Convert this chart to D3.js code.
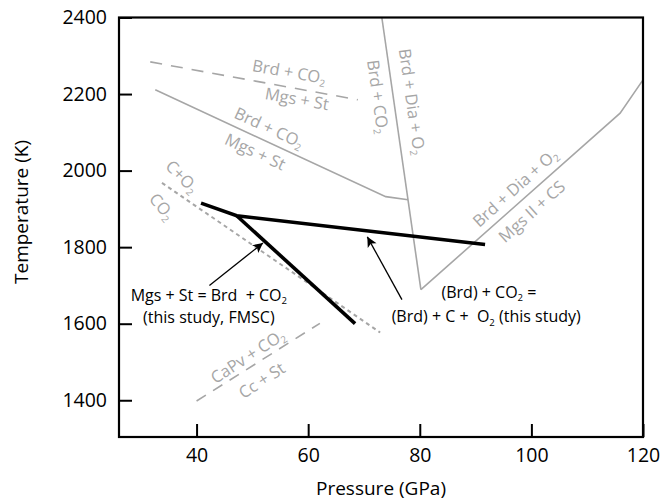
<!DOCTYPE html>
<html>
<head>
<meta charset="utf-8">
<script src="https://cdn.jsdelivr.net/npm/d3@7"></script>
<style>
  html, body { margin: 0; padding: 0; background: #fff; }
  svg { display: block; font-family: "Open Sans", "Noto Sans", sans-serif; }
  text { white-space: pre; }
</style>
</head>
<body>
<svg id="chart" width="665" height="502"></svg>
<script>
// ---------- data (Pressure GPa, Temperature K) ----------
const xTicks = [40, 60, 80, 100, 120];
const yTicks = [1400, 1600, 1800, 2000, 2200, 2400];

// Brd + CO2 = Mgs + St (dashed, older estimate)
const dashedMgsSt = [[31.7, 2284], [68.9, 2185]];
// Brd + CO2 = Mgs + St (solid)
const solidMgsSt = [[32.6, 2211], [73.9, 1932], [77.9, 1924]];
// Brd + CO2 = Brd + Dia + O2 (steep)
const steepBrdDia = [[73.2, 2400], [80.2, 1689]];
// Brd + Dia + O2 = Mgs II + CS
const risingMgsII = [[80.2, 1689], [115.9, 2150], [120.0, 2237]];
// C + O2 = CO2 (dotted)
const dottedCO2 = [[33.8, 1968], [72.9, 1577]];
// CaPv + CO2 = Cc + St (dashed)
const dashedCaPv = [[40.0, 1398], [62.1, 1601]];
// this study (black)
const studyJunction = [47.2, 1882];
const studyStart = [40.8, 1915];
const studyFMSC = [68.4, 1600];
const studyOxid = [91.7, 1807];

// arrows [tail, tip]
const arrowFMSC = [[42.3, 1700], [51.9, 1811]];
const arrowOxid = [[76.8, 1663], [70.6, 1827]];

// labels: [P, T, angle, text]  ("_2" = subscript 2)
const grayLabels = [
  [56.6, 2258, 10, "Brd + CO_2"],
  [58.0, 2187, 10, "Mgs + St"],
  [53.0, 2112, 25, "Brd + CO_2"],
  [50.5, 2049, 25, "Mgs + St"],
  [72.5, 2193, 82, "Brd + CO_2"],
  [78.6, 2180, 82, "Brd + Dia + O_2"],
  [97.1, 1955, -42, "Brd + Dia + O_2"],
  [100.1, 1893, -42, "Mgs II + CS"],
  [37.4, 1984, 45, "C+O_2"],
  [33.8, 1906, 50, "CO_2"],
  [49.2, 1515, -33, "CaPv + CO_2"],
  [51.7, 1452, -33, "Cc + St"]
];
const blackLabels = [
  [42.2, 1675, "Mgs + St = Brd  + CO_2"],
  [42.2, 1616, "(this study, FMSC)"],
  [92.4, 1682, "(Brd) + CO_2 ="],
  [91.9, 1618, "(Brd) + C +  O_2 (this study)"]
];

// ---------- layout ----------
const svg = d3.select("#chart");
const x = d3.scaleLinear().domain([26.1, 120]).range([119, 643]);
const y = d3.scaleLinear().domain([1304, 2400]).range([437, 17.5]);
const line = d3.line().x(d => x(d[0])).y(d => y(d[1]));

const GRAY = "#a6a6a6";

svg.append("defs").append("marker")
  .attr("id", "arrow")
  .attr("viewBox", "0 0 10 10")
  .attr("refX", 10).attr("refY", 5)
  .attr("markerUnits", "userSpaceOnUse")
  .attr("markerWidth", 12).attr("markerHeight", 10)
  .attr("orient", "auto")
  .append("path").attr("d", "M0,0 L10,5 L0,10 L2.5,5 Z").attr("fill", "#000");

// gray phase boundaries
const gl = svg.append("g").attr("fill", "none").attr("stroke", GRAY).attr("stroke-width", 1.6);
gl.append("path").attr("d", line(dashedMgsSt)).attr("stroke-dasharray", "12,9");
gl.append("path").attr("d", line(solidMgsSt));
gl.append("path").attr("d", line(steepBrdDia));
gl.append("path").attr("d", line(risingMgsII));
gl.append("path").attr("d", line(dottedCO2)).attr("stroke-dasharray", "4,3.5").attr("stroke-width", 2);
gl.append("path").attr("d", line(dashedCaPv)).attr("stroke-dasharray", "11,8.5");

// this study
const bl = svg.append("g").attr("fill", "none").attr("stroke", "#000").attr("stroke-width", 3.6).attr("stroke-linecap", "butt");
bl.append("path").attr("d", line([studyStart, studyJunction, studyOxid])).attr("stroke-linejoin", "miter");
bl.append("path").attr("d", line([studyJunction, studyFMSC]));

// arrows
[arrowFMSC, arrowOxid].forEach(a => {
  svg.append("path").attr("d", line(a)).attr("stroke", "#000").attr("stroke-width", 1.3)
    .attr("fill", "none").attr("marker-end", "url(#arrow)");
});

// rich text helper
function rich(sel, str, size) {
  const parts = str.split(/(_2)/);
  let sub = false;
  parts.forEach(p => {
    if (p === "") return;
    if (p === "_2") {
      sel.append("tspan").attr("font-size", size * 0.6).attr("dy", size * 0.2).text("2");
      sub = true;
    } else {
      const t = sel.append("tspan").text(p);
      if (sub) { t.attr("dy", -size * 0.2); sub = false; }
    }
  });
}

grayLabels.forEach(([p, t, a, s]) => {
  const tx = svg.append("text")
    .attr("transform", `translate(${x(p)},${y(t)}) rotate(${a})`)
    .attr("text-anchor", "middle").attr("dy", "0.35em")
    .attr("font-size", 16.5).attr("fill", GRAY);
  rich(tx, s, 16.5);
});
blackLabels.forEach(([p, t, s]) => {
  const tx = svg.append("text")
    .attr("x", x(p)).attr("y", y(t)).attr("dy", "0.35em")
    .attr("text-anchor", "middle").attr("font-size", 16).attr("fill", "#000");
  rich(tx, s, 16);
});

// axes
const xAxis = svg.append("g").attr("transform", "translate(0,437)")
  .call(d3.axisBottom(x).tickValues(xTicks).tickSizeInner(-13).tickSizeOuter(0).tickPadding(11).tickFormat(d3.format("d")));
const yAxis = svg.append("g").attr("transform", "translate(119,0)")
  .call(d3.axisLeft(y).tickValues(yTicks).tickSizeInner(-13).tickSizeOuter(0).tickPadding(12).tickFormat(d3.format("d")));
[xAxis, yAxis].forEach(ax => {
  ax.select(".domain").remove();
  ax.selectAll(".tick line").attr("stroke", "#000").attr("stroke-width", 2);
  ax.selectAll(".tick text").attr("font-size", 19.5).attr("fill", "#000")
    .attr("font-family", "'Open Sans', sans-serif");
});

// frame
svg.append("rect").attr("x", 119).attr("y", 17.5).attr("width", 643 - 119).attr("height", 437 - 17.5)
  .attr("fill", "none").attr("stroke", "#000").attr("stroke-width", 2.2);

// axis titles
svg.append("text").attr("x", 381).attr("y", 495).attr("text-anchor", "middle")
  .attr("font-size", 19).attr("fill", "#000").text("Pressure (GPa)");
svg.append("text").attr("transform", "translate(28,212) rotate(-90)").attr("text-anchor", "middle")
  .attr("font-size", 19).attr("fill", "#000").text("Temperature (K)");
</script>
</body>
</html>
